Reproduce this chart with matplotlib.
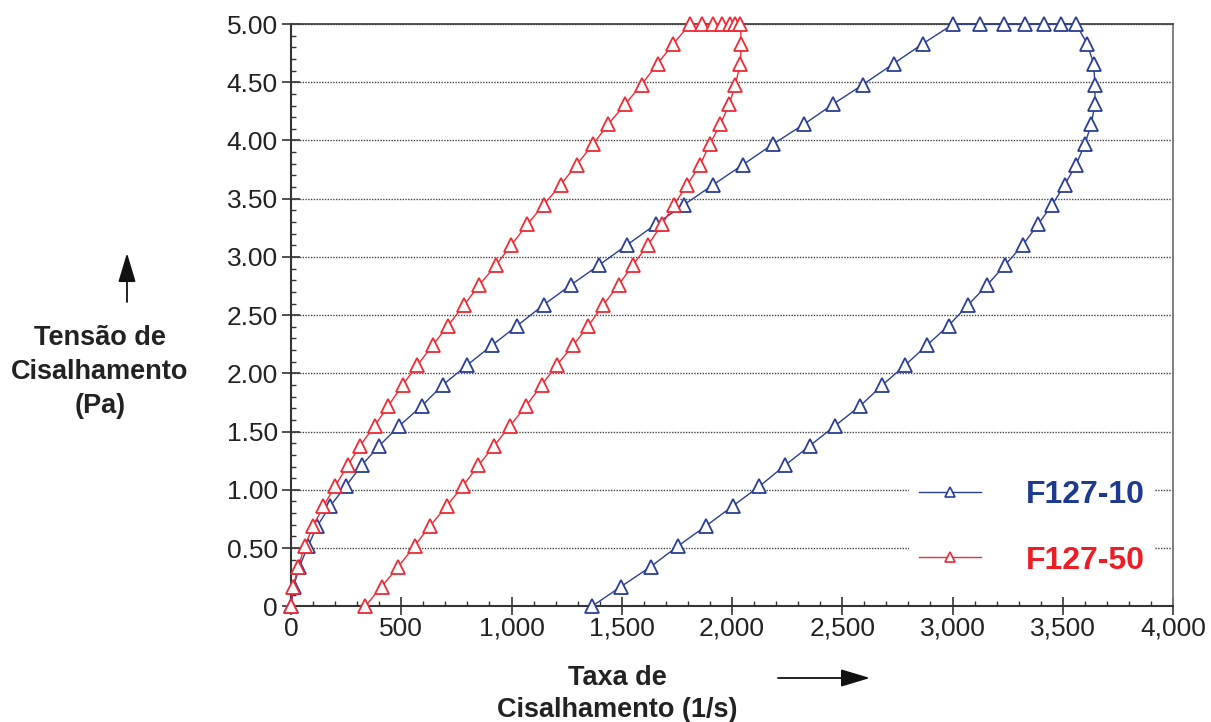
import matplotlib
matplotlib.use("Agg")
import matplotlib.pyplot as plt
from matplotlib.lines import Line2D
from matplotlib.ticker import FixedLocator, MultipleLocator

plt.rcParams['font.family'] = ['Liberation Sans', 'DejaVu Sans']

# ---- data (shear rate 1/s, shear stress Pa) ----
stress_up = [0.00, 0.17, 0.34, 0.52, 0.69, 0.86, 1.03, 1.21, 1.38, 1.55,
             1.72, 1.90, 2.07, 2.24, 2.41, 2.59, 2.76, 2.93, 3.10, 3.28,
             3.45, 3.62, 3.79, 3.97, 4.14, 4.31, 4.48, 4.66, 4.83, 5.00]
stress_plateau = [5.00, 5.00, 5.00, 5.00, 5.00, 5.00]
stress_down = [4.83, 4.66, 4.48, 4.31, 4.14, 3.97, 3.79, 3.62, 3.45, 3.28,
               3.10, 2.93, 2.76, 2.59, 2.41, 2.24, 2.07, 1.90, 1.72, 1.55,
               1.38, 1.21, 1.03, 0.86, 0.69, 0.52, 0.34, 0.17, 0.00]

f10_rate_up = [0, 12, 38, 78, 119, 177, 248, 320, 401, 491, 593, 688, 798, 911, 1026,
               1147, 1270, 1397, 1522, 1654, 1784, 1915, 2048, 2187, 2327, 2457,
               2594, 2733, 2865, 3004]
f10_rate_plateau = [3125, 3232, 3330, 3416, 3492, 3560]
f10_rate_down = [3611, 3640, 3646, 3646, 3629, 3601, 3560, 3509, 3453, 3388, 3318,
                 3238, 3158, 3072, 2982, 2883, 2785, 2682, 2581, 2467, 2354, 2240,
                 2124, 2003, 1882, 1757, 1631, 1497, 1365]

f50_rate_up = [0, 10, 33, 63, 101, 147, 200, 257, 314, 379, 441, 506, 573, 642, 712,
               786, 854, 930, 998, 1072, 1147, 1223, 1295, 1371, 1439, 1515, 1590,
               1663, 1734, 1810]
f50_rate_plateau = [1866, 1915, 1956, 1991, 2015, 2038]
f50_rate_down = [2042, 2038, 2015, 1988, 1947, 1900, 1855, 1797, 1738, 1683, 1618,
                 1550, 1486, 1417, 1349, 1279, 1205, 1137, 1066, 993, 922, 850, 778,
                 706, 630, 561, 487, 411, 337]

series_names = ['F127-10', 'F127-50']
y_ticks = [0, 0.5, 1.0, 1.5, 2.0, 2.5, 3.0, 3.5, 4.0, 4.5, 5.0]
y_ticklabels = ['0', '0.50', '1.00', '1.50', '2.00', '2.50', '3.00', '3.50', '4.00', '4.50', '5.00']
x_ticks = [0, 500, 1000, 1500, 2000, 2500, 3000, 3500, 4000]
x_ticklabels = ['0', '500', '1,000', '1,500', '2,000', '2,500', '3,000', '3,500', '4,000']

BLUE = '#2B3E95'
RED = '#EE2A35'
BLUE_TXT = '#1E3A8F'
RED_TXT = '#EE1C25'

fig = plt.figure(figsize=(12.11, 7.22), dpi=100)
ax = fig.add_axes([291 / 1211, 1 - 606.3 / 722, (1173 - 291) / 1211, (606.3 - 24) / 722])

stress_all = stress_up + stress_plateau + stress_down
for xs, color in [(f10_rate_up + f10_rate_plateau + f10_rate_down, BLUE),
                  (f50_rate_up + f50_rate_plateau + f50_rate_down, RED)]:
    ax.plot(xs, stress_all, color=color, lw=1.0, marker='^', markersize=10,
            markerfacecolor='white', markeredgecolor=color, markeredgewidth=1.3,
            clip_on=False, zorder=3)

ax.set_xlim(0, 4000)
ax.set_ylim(0, 5)
ax.xaxis.set_major_locator(FixedLocator(x_ticks))
ax.set_xticklabels(x_ticklabels)
ax.yaxis.set_major_locator(FixedLocator(y_ticks))
ax.set_yticklabels(y_ticklabels)
ax.xaxis.set_minor_locator(MultipleLocator(100))
ax.yaxis.set_minor_locator(MultipleLocator(0.1))

ax.tick_params(which='major', direction='inout', length=13, width=1.2, color='#333333',
               labelsize=19, labelcolor='#222222')
ax.tick_params(axis='x', which='major', pad=1)
ax.tick_params(axis='y', which='major', pad=3)
ax.tick_params(which='minor', direction='in', length=3.5, width=1.0, color='#333333')

for s in ['left', 'bottom']:
    ax.spines[s].set_color('#333333')
    ax.spines[s].set_linewidth(1.5)
ax.spines['top'].set_color('#444444')
ax.spines['top'].set_linewidth(1.3)
ax.spines['right'].set_color('#777777')
ax.spines['right'].set_linewidth(1.3)

ax.yaxis.grid(True, which='major', linestyle=(0, (1, 1)), color='#444444', linewidth=1.0)
ax.set_axisbelow(True)

handles = [Line2D([0], [0], color=BLUE, lw=1.0, marker='^', markersize=7,
                  markerfacecolor='white', markeredgecolor=BLUE, markeredgewidth=1.2),
           Line2D([0], [0], color=RED, lw=1.0, marker='^', markersize=7,
                  markerfacecolor='white', markeredgecolor=RED, markeredgewidth=1.2)]
leg = ax.legend(handles, series_names, loc='center', bbox_to_anchor=(0.840, 0.135),
                frameon=True, facecolor='white', edgecolor='none', framealpha=1,
                fancybox=False, prop={'weight': 'bold', 'size': 23},
                handlelength=1.95, handletextpad=1.4, labelspacing=1.12, borderpad=0.3)
for t, c in zip(leg.get_texts(), [BLUE_TXT, RED_TXT]):
    t.set_color(c)
leg.set_zorder(5)

# axis titles
fig.text(100, 722 - 372, 'Tensão de\nCisalhamento\n(Pa)', transform=None,
         ha='center', va='center', fontsize=19.5, fontweight='bold', color='#222222',
         linespacing=1.38)
fig.text(617, 722 - 694, 'Taxa de\nCisalhamento (1/s)', transform=None,
         ha='center', va='center', fontsize=19.5, fontweight='bold', color='#222222',
         linespacing=1.3)

# arrows
ax.annotate('', xy=(127, 722 - 253), xycoords='figure pixels',
            xytext=(127, 722 - 302), textcoords='figure pixels',
            arrowprops=dict(arrowstyle='-|>,head_length=1.0,head_width=0.3',
                            mutation_scale=18, color='#111111', lw=1.3,
                            shrinkA=0, shrinkB=0))
ax.annotate('', xy=(870, 722 - 678), xycoords='figure pixels',
            xytext=(778, 722 - 678), textcoords='figure pixels',
            arrowprops=dict(arrowstyle='-|>,head_length=1.0,head_width=0.3',
                            mutation_scale=18, color='#111111', lw=1.3,
                            shrinkA=0, shrinkB=0))

fig.savefig('out.png', dpi=100)
